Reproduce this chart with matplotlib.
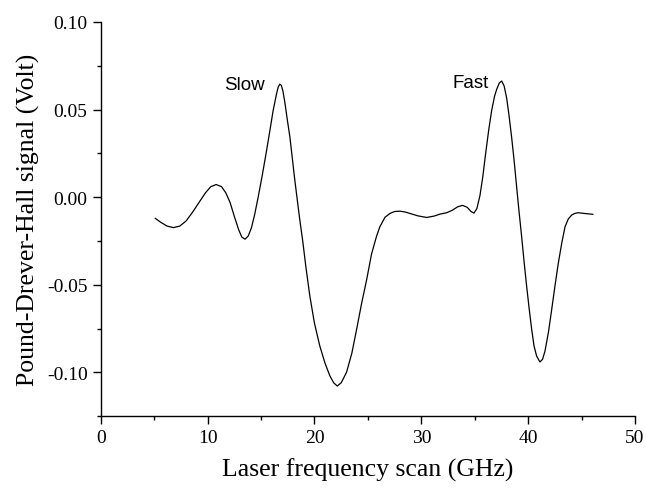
import matplotlib
matplotlib.use('Agg')
import matplotlib.pyplot as plt
from matplotlib.ticker import MultipleLocator

# laser scan (GHz) and PDH signal (V)
scan_ghz = [5.1, 5.6, 6.2, 6.8, 7.4, 8.0, 8.6, 9.2, 9.8, 10.3, 10.8, 11.3,
            11.7, 12.1, 12.5, 12.9, 13.2, 13.5, 13.8, 14.1, 14.4, 14.73, 15.1,
            15.5, 15.8, 16.13, 16.45, 16.6, 16.76, 16.9, 17.05, 17.23, 17.45,
            17.7, 17.93, 18.16, 18.4, 18.63, 18.9, 19.2, 19.57, 20.0, 20.5,
            21.0, 21.44, 21.8, 22.13, 22.5, 23.0, 23.5, 23.94, 24.4, 24.88,
            25.34, 25.8, 26.12, 26.6, 27.06, 27.5, 28.0, 28.5, 28.93, 29.7,
            30.5, 31.2, 31.74, 32.37, 32.9, 33.4, 33.86, 34.3, 34.65, 34.93,
            35.2, 35.49, 35.75, 36.0, 36.3, 36.58, 36.85, 37.05, 37.3, 37.52,
            37.75, 37.99, 38.2, 38.45, 38.7, 38.92, 39.15, 39.39, 39.62, 39.86,
            40.1, 40.33, 40.55, 40.79, 41.1, 41.35, 41.57, 41.9, 42.2, 42.5,
            42.82, 43.15, 43.45, 43.75, 44.07, 44.4, 44.7, 45.4, 46.05]
signal_v = [-0.0121, -0.0143, -0.0165, -0.0174, -0.0165, -0.0135, -0.0085,
            -0.0030, 0.0025, 0.0060, 0.0072, 0.0060, 0.0025, -0.0030, -0.0110,
            -0.0185, -0.0228, -0.0240, -0.0222, -0.0175, -0.0100, 0.0000,
            0.0120, 0.0260, 0.0370, 0.0494, 0.0590, 0.0628, 0.0645, 0.0638,
            0.0605, 0.0540, 0.0445, 0.0343, 0.0220, 0.0097, -0.0020, -0.0131,
            -0.0250, -0.0400, -0.0566, -0.0720, -0.0850, -0.0950, -0.1020,
            -0.1060, -0.1078, -0.1060, -0.1000, -0.0890, -0.0756, -0.0610,
            -0.0472, -0.0325, -0.0225, -0.0169, -0.0115, -0.0093, -0.0082,
            -0.0080, -0.0085, -0.0093, -0.0107, -0.0116, -0.0108, -0.0097,
            -0.0089, -0.0075, -0.0055, -0.0047, -0.0058, -0.0082, -0.0091,
            -0.0065, 0.0010, 0.0115, 0.0240, 0.0380, 0.0494, 0.0575, 0.0615,
            0.0652, 0.0663, 0.0635, 0.0565, 0.0470, 0.0343, 0.0200, 0.0059,
            -0.0085, -0.0226, -0.0370, -0.0510, -0.0640, -0.0756, -0.0850,
            -0.0907, -0.0941, -0.0925, -0.0880, -0.0770, -0.0642, -0.0510,
            -0.0377, -0.0260, -0.0169, -0.0125, -0.0102, -0.0092, -0.0089,
            -0.0094, -0.0098]

labels = ['Slow', 'Fast']
label_x = [13.4, 34.6]
label_y = [0.0642, 0.0655]

serif = 'Liberation Serif'

fig = plt.figure(figsize=(6.46, 4.89), dpi=100)
ax = fig.add_axes([0.156, 0.147, 0.827, 0.806])
ax.plot(scan_ghz, signal_v, color='black', lw=0.9, solid_joinstyle='round')

for t, x, y in zip(labels, label_x, label_y):
    ax.text(x, y, t, ha='center', va='center', fontsize=13.5,
            family='Liberation Sans')

ax.set_xlim(0, 50)
ax.set_ylim(-0.125, 0.10)
ax.xaxis.set_major_locator(MultipleLocator(10))
ax.xaxis.set_minor_locator(MultipleLocator(5))
ax.yaxis.set_minor_locator(MultipleLocator(0.025))
ax.set_yticks([-0.10, -0.05, 0.0, 0.05, 0.10])
ax.set_yticklabels(['-0.10', '-0.05', '0.00', '0.05', '0.10'])

ax.spines['top'].set_visible(False)
ax.spines['right'].set_visible(False)
for s in ['left', 'bottom']:
    ax.spines[s].set_linewidth(1.0)
ax.tick_params(which='major', direction='out', length=6, width=1.0,
               labelsize=14)
ax.tick_params(which='minor', direction='out', length=3, width=1.0)
for lab in ax.get_xticklabels() + ax.get_yticklabels():
    lab.set_family(serif)

ax.set_xlabel('Laser frequency scan (GHz)', fontsize=18.5, family=serif,
              labelpad=8)
ax.set_ylabel('Pound-Drever-Hall signal (Volt)', fontsize=18.5, family=serif,
              labelpad=5)

fig.savefig('out.png', dpi=100)
